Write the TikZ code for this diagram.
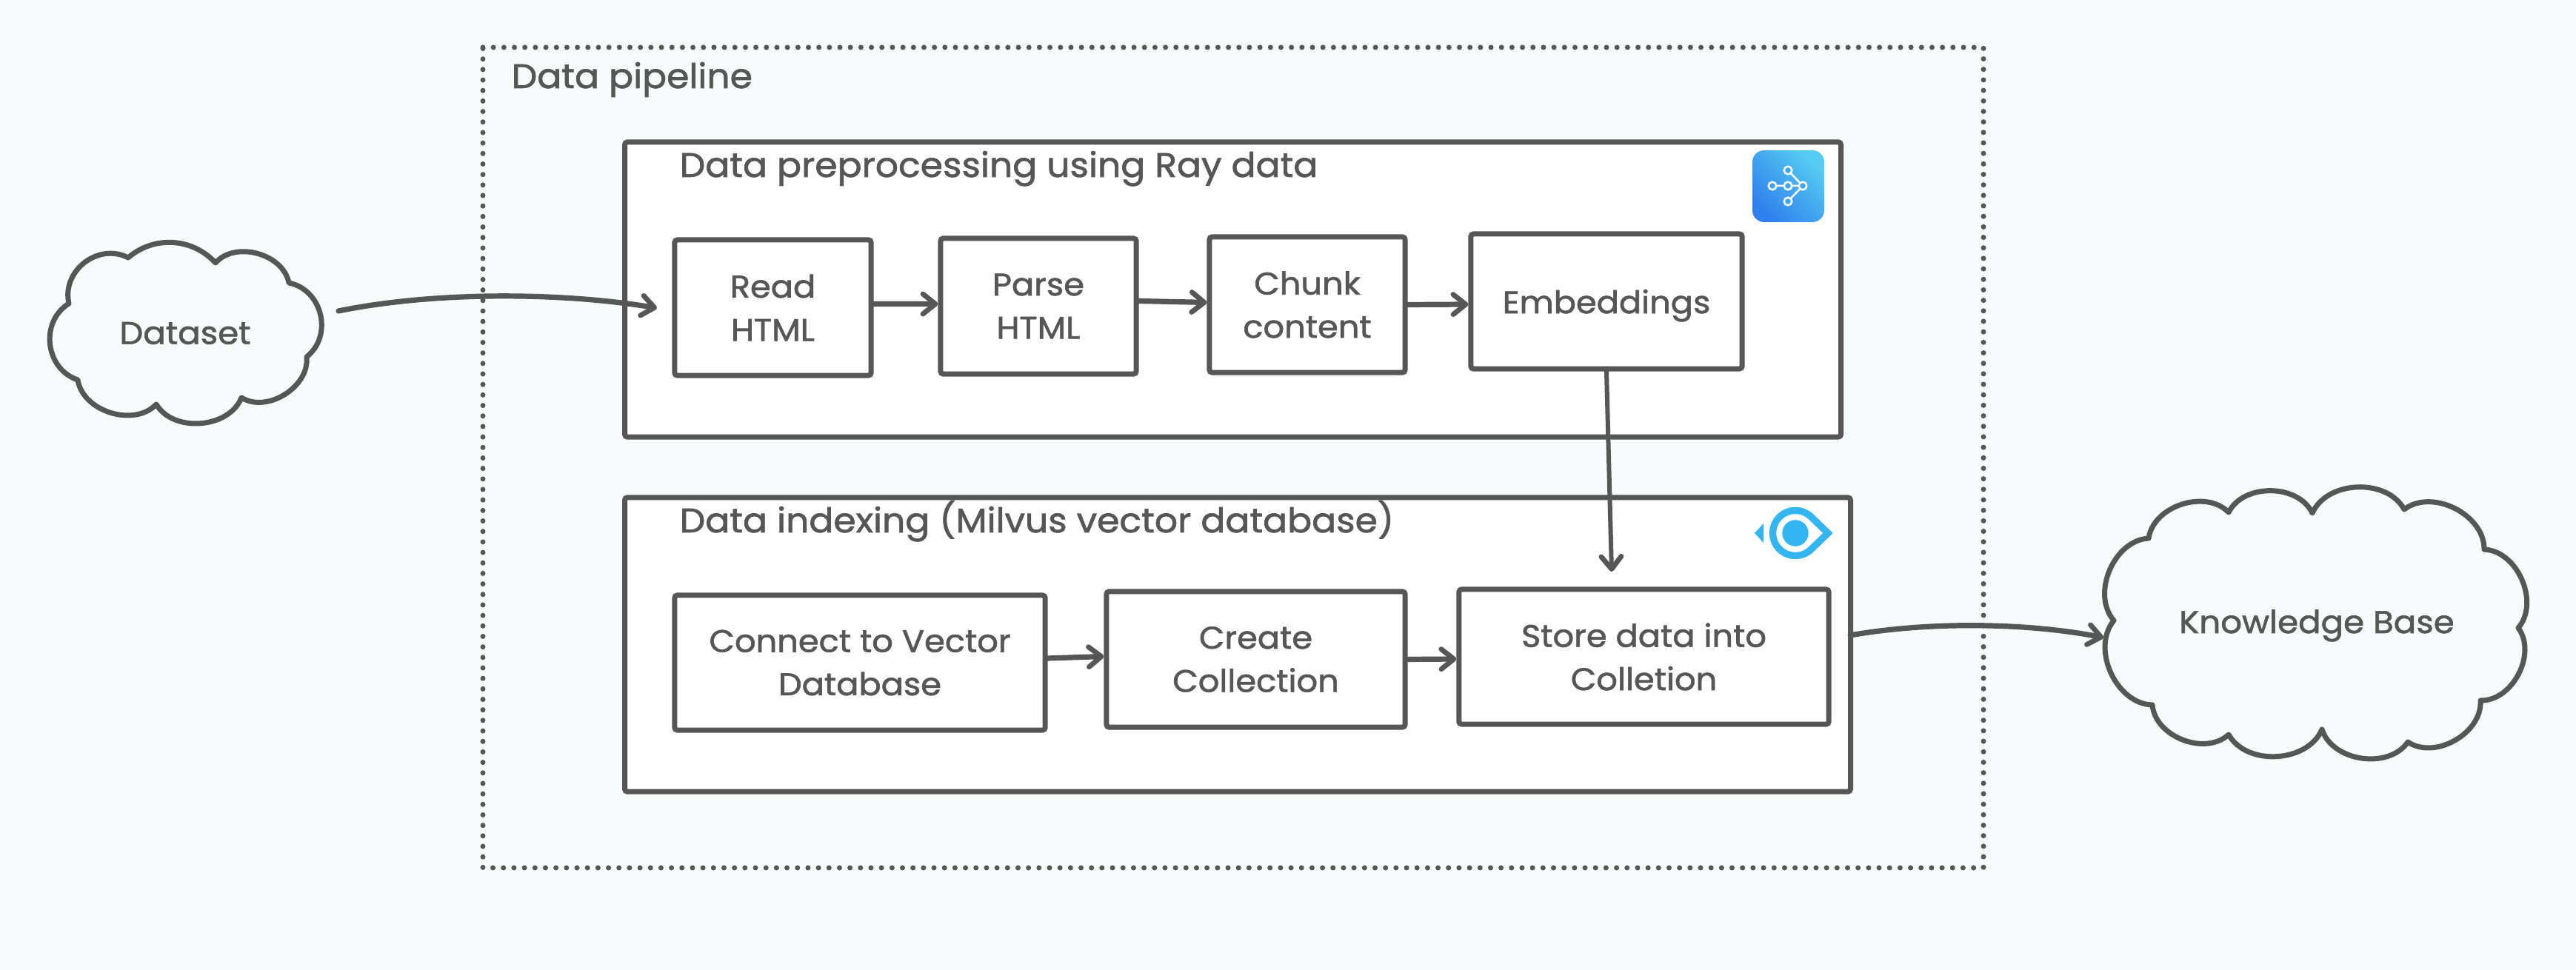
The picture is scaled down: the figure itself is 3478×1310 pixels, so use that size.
\documentclass[tikz,border=0pt]{standalone}
\usepackage{fontspec}
\setmainfont{Poppins}[FakeStretch=1.06,FakeBold=1.5]
\usetikzlibrary{arrows.meta}
\definecolor{inkgrey}{HTML}{555756}
\definecolor{pagebg}{HTML}{F9FAFC}
\definecolor{milvusblue}{HTML}{33B5F1}
\definecolor{raydark}{HTML}{2F80ED}
\definecolor{raylight}{HTML}{56CCF2}

\begin{document}
\begin{tikzpicture}[
x=0.01cm,
y=-0.01cm,
frame/.style={
  draw=inkgrey,
  fill=white,
  line width=0.07cm,
  rounded corners=1pt
  },
stepbox/.style={
  frame,
  text=inkgrey,
  align=center,
  inner sep=0pt,
  font=\fontsize{12}{16.6}\selectfont
  },
title/.style={
  text=inkgrey,
  anchor=base west,
  inner sep=0pt,
  font=\fontsize{13.1}{16}\selectfont
  },
cloudtext/.style={
  text=inkgrey,
  inner sep=0pt,
  font=\fontsize{12.1}{16}\selectfont
  },
cloudline/.style={
  draw=inkgrey,
  fill=pagebg,
  line width=0.07cm,
  line join=round
  },
flow/.style={
  draw=inkgrey,
  line width=0.072cm,
  line cap=round
  },
puff/.style={bend left=64},
bigpuff/.style={bend left=65,looseness=1.15},
flatpuff/.style={bend left=44},
>={Straight Barb[round,length=0.17cm,width=0.27cm,line width=0.068cm]}
]
\useasboundingbox (0,0) rectangle (3478,1310);
\fill[pagebg] (0,0) rectangle (3478,1310);

% dotted outer frame
\node[title] (pipelinetitle) at (690,119) {Data pipeline};
\draw[inkgrey,line width=0.07cm,line cap=round,dash pattern=on 0pt off 0.1417cm]
  (652,64) -- (2678,64) -- (2678,1172) -- (652,1172) -- cycle;

% the two stages
\node[frame,minimum width=16.41cm,minimum height=3.98cm] (preprocess) at (1664.5,391) {};
\node[frame,minimum width=16.54cm,minimum height=3.97cm] (indexing) at (1671,870.5) {};
\node[title] (preprocesstitle) at (917,239) {Data preprocessing using Ray data};
\node[title] (indexingtitle) at (917,719) {Data indexing (Milvus vector database)};

% clouds
\draw[cloudline] (173,348) to[flatpuff] (291,355) to[puff] (390,382) to[bigpuff] (414,482)
  to[puff] (326,537) to[puff] (211,546) to[puff] (105,513) to[bigpuff] (93,410)
  to[bigpuff] (173,348) -- cycle;
\node[cloudtext] (dataset) at (250,450) {Dataset};
\draw[cloudline] (3009,692) to[puff] (3122,693) to[puff] (3246,688) to[puff] (3354,742)
  to[puff] (3400,848) to[puff] (3349,946) to[puff] (3251,1002) to[puff] (3135,985)
  to[puff] (3009,992) to[puff] (2906,952) to[puff] (2854,838) to[puff] (2901,727)
  to[puff] (3009,692) -- cycle;
\node[cloudtext] (knowledge) at (3128,845) {Knowledge Base};

% steps
\node[stepbox,minimum width=2.65cm,minimum height=1.83cm] (readhtml) at (1043.5,415.5) {Read\\HTML};
\node[stepbox,minimum width=2.64cm,minimum height=1.83cm] (parsehtml) at (1402,413.5) {Parse\\HTML};
\node[stepbox,minimum width=2.64cm,minimum height=1.83cm] (chunk) at (1765,411.5) {Chunk\\content};
\node[stepbox,minimum width=3.66cm,minimum height=1.82cm,text depth=0pt] (embeddings) at (2169,407) {Embeddings};
\node[stepbox,minimum width=5cm,minimum height=1.82cm] (connect) at (1161,895) {Connect to Vector\\Database};
\node[stepbox,minimum width=4.03cm,minimum height=1.83cm] (create) at (1695.5,890.5) {Create\\Collection};
\node[stepbox,minimum width=4.99cm,minimum height=1.82cm] (storedata) at (2219.5,887) {Store data into\\Colletion};

% ray logo
\shade[rounded corners=0.16cm,left color=raylight,right color=raydark,shading angle=-45]
  (2366,203) rectangle (2463,300);
\draw[white,line width=0.025cm] (2393,251) -- (2434,251) (2414,230) -- (2434,251) -- (2414,272);
\foreach \cx/\cy in {2414/230,2393/251,2414/251,2434/251,2414/272}
  \filldraw[white,fill=raydark!50!raylight,line width=0.025cm] (\cx,\cy) circle [radius=5.3];

% milvus logo
\draw[milvusblue,line width=0.093cm,miter limit=10] (2468,720) -- (2445.6,698.4)
  arc[start angle=-45,end angle=-315,radius=30.5] -- cycle;
\fill[milvusblue] (2424,720) circle [radius=17.7];
\fill[milvusblue] (2369,720) -- (2381,707) -- (2381,733) -- cycle;

% connectors
\coordinate (datasetout) at (457,420);
\coordinate (readin) at (887,416);
\coordinate (storein) at (2176,772);
\coordinate (indexout) at (2498,858);
\coordinate (knowledgein) at (2840,861);
\draw[flow,->] (datasetout) .. controls (590,393) and (760,395) .. (readin);
\draw[flow,->] ([yshift=0.05cm]readhtml.east) -- ([yshift=0.03cm]parsehtml.west);
\draw[flow,->] ([yshift=0.07cm]parsehtml.east) -- ([yshift=0.03cm]chunk.west);
\draw[flow,->] (chunk.east) -- ([yshift=-0.04cm]embeddings.west);
\draw[flow,->,line width=0.06cm] (embeddings.south) -- (storein);
\draw[flow,->] ([yshift=0.06cm]connect.east) -- ([yshift=0.04cm]create.west);
\draw[flow,->] (create.east) -- ([yshift=-0.03cm]storedata.west);
\draw[flow,->] (indexout) .. controls (2600,840) and (2730,840) .. (knowledgein);

\end{tikzpicture}
\end{document}
